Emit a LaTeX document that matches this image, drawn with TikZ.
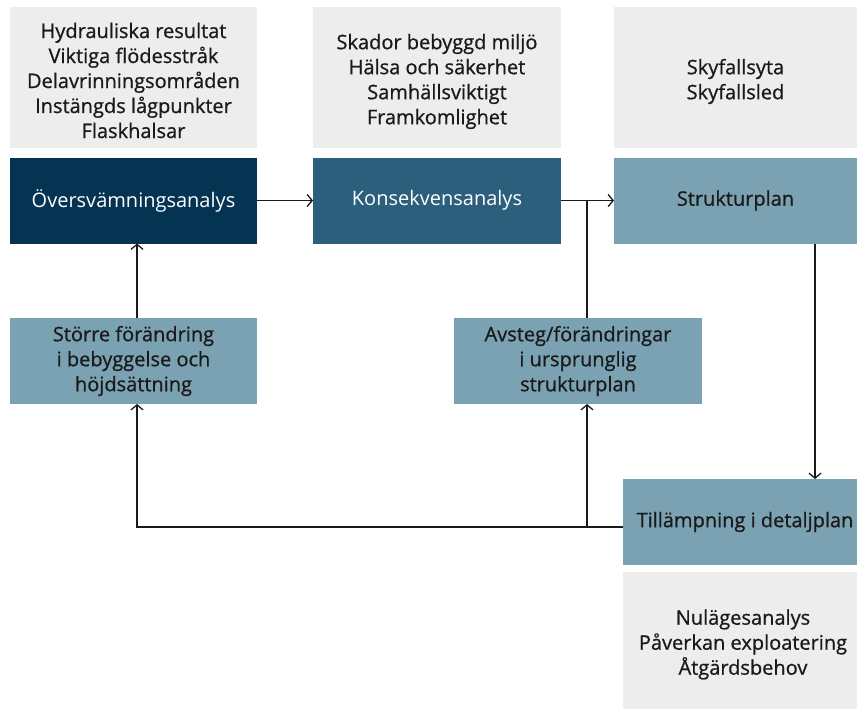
\documentclass[tikz,border=0pt]{standalone}
\usepackage{fontspec}
\setmainfont{Open Sans}
\newfontfamily\semib{Open Sans}[FakeBold=0.8]
\usetikzlibrary{arrows.meta}
\definecolor{cgray}{HTML}{EDEDED}
\definecolor{cdark}{HTML}{053452}
\definecolor{cmid}{HTML}{2B5F7C}
\definecolor{clight}{HTML}{7BA2B2}
\definecolor{ctext}{HTML}{1A1A1A}
\tikzset{
  box/.style={rectangle, inner sep=0pt, outer sep=0pt, align=center, font=\fontsize{20}{25}\selectfont\semib, text=ctext},
  graybox/.style={box, fill=cgray},
  txt/.style={box, yshift=-3pt},
  darkbox/.style={box, fill=cdark, text=white, font=\fontsize{20}{25}\selectfont},
  midbox/.style={box, fill=cmid, text=white, font=\fontsize{20}{25}\selectfont},
  lightbox/.style={box, fill=clight},
  conn/.style={line width=1.3pt, draw=ctext},
  arr/.style={conn, -{Straight Barb[length=5pt,width=12pt,line width=1.3pt]}}
}
\begin{document}
\begin{tikzpicture}[x=1pt,y=-1pt]
\useasboundingbox (0,0) rectangle (857,709);
% top info boxes
\node[graybox, minimum width=247pt, minimum height=141pt] (g1) at (133.5,77.5) {};
\node[txt] (g1t) at (g1.center)
  {Hydrauliska resultat\\Viktiga flödesstråk\\Delavrinningsområden\\Instängds lågpunkter\\Flaskhalsar};
\node[graybox, minimum width=248pt, minimum height=141pt] (g2) at (437,77.5) {};
\node[txt, yshift=-1pt] (g2t) at (g2.center)
  {Skador bebyggd miljö\\Hälsa och säkerhet\\Samhällsviktigt\\Framkomlighet};
\node[graybox, minimum width=243pt, minimum height=141pt] (g3) at (735.5,77.5) {};
\node[txt, yshift=-1pt] (g3t) at (g3.center) {Skyfallsyta\\Skyfallsled};
% main row
\node[darkbox, minimum width=247pt, minimum height=86pt] (d1) at (133.5,200.5) {Översvämningsanalys};
\node[midbox, minimum width=248pt, minimum height=86pt] (d2) at (437,200.5) {Konsekvensanalys};
\node[lightbox, minimum width=243pt, minimum height=86pt] (d3) at (735.5,200.5) {Strukturplan};
% middle row
\node[lightbox, minimum width=247pt, minimum height=86pt] (s1) at (133.5,361) {Större förändring\\i bebyggelse och\\höjdsättning};
\node[lightbox, minimum width=248pt, minimum height=86pt] (s2) at (578,361) {Avsteg/förändringar\\i ursprunglig\\strukturplan};
% bottom
\node[lightbox, minimum width=234pt, minimum height=86pt] (t) at (740,522) {};
\node[box, xshift=5pt] (tt) at (t.center) {Tillämpning i detaljplan};
\node[graybox, minimum width=234pt, minimum height=137pt] (g4) at (740,640.5) {};
\node[txt, yshift=-1pt, xshift=3pt] (g4t) at (g4.center)
  {Nulägesanalys\\Påverkan exploatering\\Åtgärdsbehov};
% helper coordinates
\coordinate (j1) at (587,200.5);
\coordinate (xl) at (137,0);
\coordinate (xr) at (815,0);
\coordinate (yb) at (0,527);
\coordinate (j2) at (587,527);
% connectors
\draw[arr] (d1.east) -- (d2.west);
\draw[arr] (d2.east) -- (d3.west);
\draw[conn] (s2.north -| j1) -- (j1);
\draw[arr] (d3.south -| xr) -- (t.north -| xr);
\draw[arr] (t.west |- yb) -- (yb -| xl) -- (s1.south -| xl);
\draw[arr] (j2) -- (s2.south -| j2);
\draw[arr] (s1.north -| xl) -- (d1.south -| xl);
\end{tikzpicture}
\end{document}
